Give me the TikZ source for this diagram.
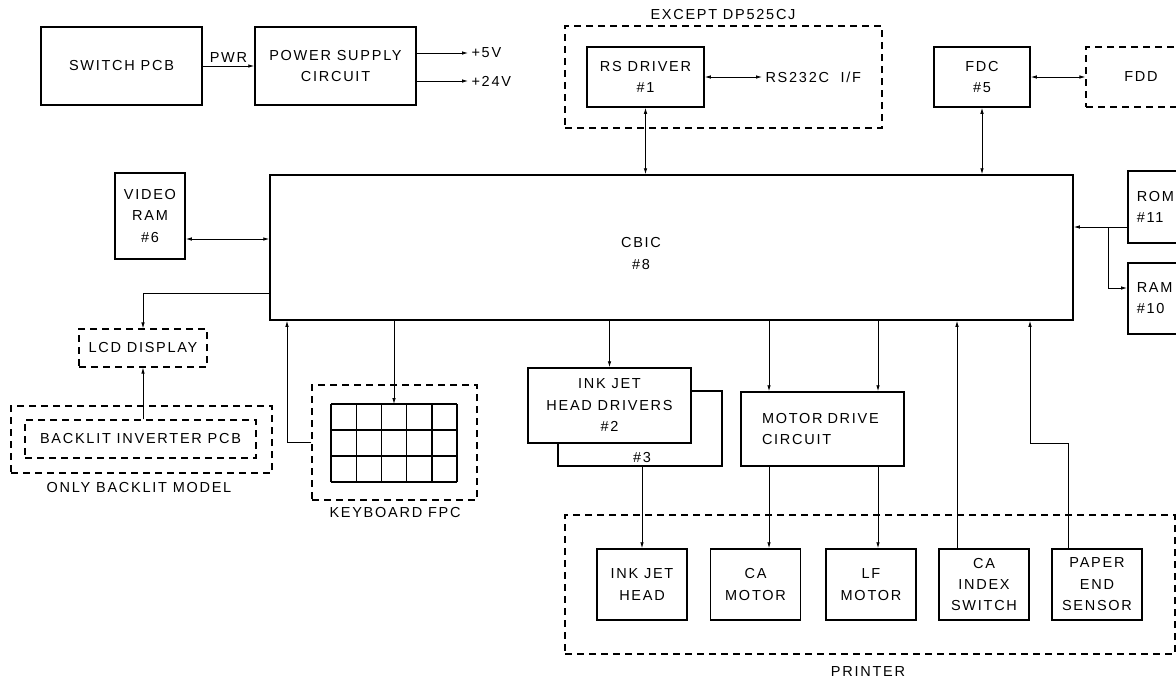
\documentclass[tikz,border=0pt]{standalone}
\usepackage{fontspec}
\setmainfont{Liberation Sans}[LetterSpace=12]
\usetikzlibrary{arrows.meta}
\tikzset{
  bloc/.style={draw, line width=1.5pt, align=center, inner sep=0pt},
  cadre/.style={draw, line width=1.1pt, dash pattern=on 7pt off 5pt, align=center, inner sep=0pt},
  piece/.style={bloc, minimum width=90, minimum height=71},
  fil/.style={line width=0.8pt},
}
\begin{document}
\begin{tikzpicture}[x=1pt,y=-1pt, font=\fontsize{14.5}{21.5}\selectfont,
    >={Latex[length=6pt,width=3.5pt]}] % ------ CBIC block diagram -----------
    \useasboundingbox (0,0) rectangle (1176,683);
    % power
    \node[bloc, minimum width=161, minimum height=78] (sw) at (121.5,66) {SWITCH PCB};
    \node[bloc, minimum width=161, minimum height=78] (psu) at (335.5,66) {POWER SUPPLY\\CIRCUIT};
    \node[anchor=west] (p5) at (468,53) {+5V};
    \node[anchor=west] (p24) at (468,81) {+24V};
    % serial and floppy
    \node[cadre, minimum width=317, minimum height=102] (exc) at (723.5,77) {};
    \node (excl) at (723,15) {EXCEPT DP525CJ};
    \node[bloc, minimum width=117, minimum height=60] (rs) at (645.5,77) {RS DRIVER\\\#1};
    \node[anchor=west] (rsif) at (762,77) {RS232C\ \ I/F};
    \node[bloc, minimum width=96, minimum height=60] (fdc) at (982,77) {FDC\\\#5};
    \node[cadre, minimum width=110, minimum height=60] (fdd) at (1141,77) {FDD};
    % CBIC and memories
    \node[bloc, minimum width=803, minimum height=145] (cbic) at (671.5,247.5) {};
    \node[align=center] (cbicl) at (641,253.5) {CBIC\\\#8};
    \node[bloc, minimum width=70, minimum height=86] (vram) at (150,216) {VIDEO\\RAM\\\#6};
    \node[bloc, anchor=north west, minimum width=70, minimum height=72, text width=52,
      align=left, inner xsep=9] (rom) at (1127,170) {ROM\\\#11};
    \node[bloc, anchor=north west, minimum width=70, minimum height=71, text width=52,
      align=left, inner xsep=9] (ram) at (1127,262) {RAM\\\#10};
    % display
    \node[cadre, minimum width=128, minimum height=38] (lcd) at (143,348) {LCD DISPLAY};
    \node[cadre, minimum width=261, minimum height=67] (blm) at (141.5,439.5) {};
    \node (blml) at (139,488) {ONLY BACKLIT MODEL};
    \node[cadre, minimum width=231, minimum height=38] (bli) at (140.5,439) {BACKLIT INVERTER PCB};
    % keyboard
    \node[cadre, minimum width=165, minimum height=115] (kbd) at (394.5,442.5) {};
    \node (kbdl) at (395,513) {KEYBOARD FPC};
    \foreach \c in {0,...,5} \draw[line width=1.4pt] (331+25.2*\c,404) -- (331+25.2*\c,482);
    \foreach \r in {0,...,3} \draw[line width=1.4pt] (331,404+26*\r) -- (457,404+26*\r);
    \coordinate (kgrid) at (394,404);
    % drivers
    \node[bloc, minimum width=164, minimum height=75] (drv3) at (640,428.5) {};
    \node (n3) at (642,458) {\#3};
    \node[bloc, fill=white, minimum width=163, minimum height=75] (drv2) at (609.5,405.5) {INK JET\\HEAD DRIVERS\\\#2};
    \node[bloc, minimum width=163, minimum height=74, text width=121, align=left,
      inner xsep=21] (mdc) at (822.5,429) {MOTOR DRIVE\\CIRCUIT};
    % printer
    \node[cadre, minimum width=610, minimum height=139] (prn) at (870,584.5) {};
    \node (prnl) at (868,672) {PRINTER};
    \node[piece] (ijh) at (642,584.5) {INK JET\\HEAD};
    \node[piece] (cam) at (755.5,584.5) {CA\\MOTOR};
    \node[piece] (lfm) at (871,584.5) {LF\\MOTOR};
    \node[piece] (cai) at (984,584.5) {CA\\INDEX\\SWITCH};
    \node[piece] (pes) at (1097,584.5) {PAPER\\END\\SENSOR};
    % links
    \coordinate (yv) at (0,239);
    \coordinate (ylcd) at (0,293);
    \coordinate (yrom) at (0,227);
    \coordinate (yram) at (0,288);
    \coordinate (xb) at (1108,0);
    \coordinate (xk) at (287,0);
    \coordinate (xca) at (769,0);
    \coordinate (xlf) at (878,0);
    \coordinate (xci) at (957,0);
    \coordinate (xpe) at (1068,443);
    \coordinate (kp) at (1030,443);
    \draw[fil,->] (sw) -- node[above, inner sep=3pt] (pwr) {PWR} (psu);
    \draw[fil,->] (psu.east |- p5) -- (p5.west);
    \draw[fil,->] (psu.east |- p24) -- (p24.west);
    \draw[fil,<->] (rs) -- (rsif);
    \draw[fil,<->] (fdc) -- (fdd);
    \draw[fil,<->] (rs.south) -- (rs.south |- cbic.north);
    \draw[fil,<->] (fdc.south) -- (fdc.south |- cbic.north);
    \draw[fil,<->] (vram.east |- yv) -- (cbic.west |- yv);
    \draw[fil,->] (rom.west |- yrom) -- (cbic.east |- yrom);
    \draw[fil,->] (xb |- yrom) -- (xb |- yram) -- (ram.west |- yram);
    \draw[fil,->] (cbic.west |- ylcd) -| (lcd.north);
    \draw[fil,->] (bli.north -| lcd.south) -- (lcd.south);
    \draw[fil,->] (cbic.south -| kgrid) -- (kgrid);
    \draw[fil,->] (kbd.west) -| (cbic.south -| xk);
    \draw[fil,->] (cbic.south -| drv2.north) -- (drv2.north);
    \draw[fil,->] (drv3.south -| ijh.north) -- (ijh.north);
    \draw[fil,->] (cbic.south -| xca) -- (mdc.north -| xca);
    \draw[fil,->] (cbic.south -| xlf) -- (mdc.north -| xlf);
    \draw[fil,->] (mdc.south -| xca) -- (cam.north -| xca);
    \draw[fil,->] (mdc.south -| xlf) -- (lfm.north -| xlf);
    \draw[fil,->] (cai.north -| xci) -- (cbic.south -| xci);
    \draw[fil,->] (pes.north -| xpe) -- (xpe) -- (kp) -- (kp |- cbic.south);
\end{tikzpicture}
\end{document}
